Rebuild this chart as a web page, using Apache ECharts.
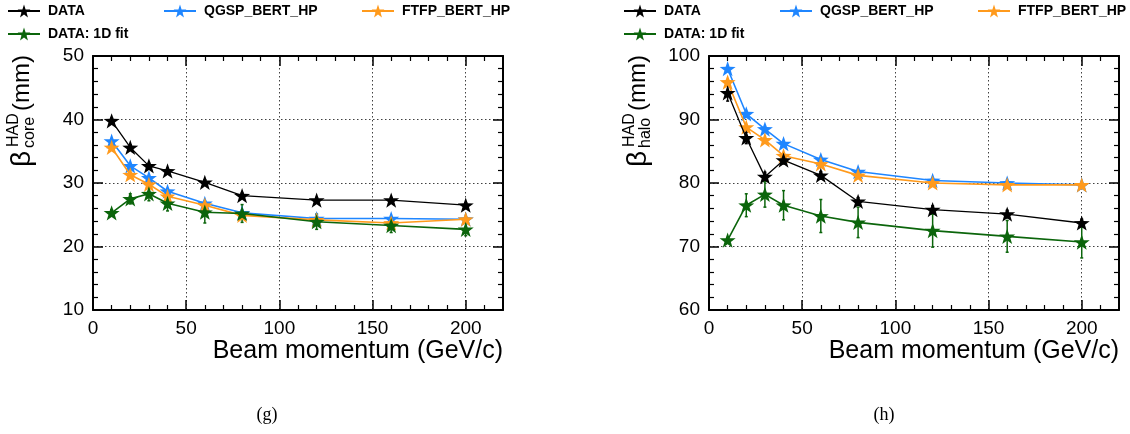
<!DOCTYPE html>
<html>
<head>
<meta charset="utf-8">
<script src="https://cdn.jsdelivr.net/npm/echarts@6/dist/echarts.min.js"></script>
<style>
html,body{margin:0;padding:0;background:#fff;}
#chart{width:1130px;height:434px;}
</style>
</head>
<body>
<div id="chart"></div>
<script>
// ---- data ----
const momenta = [10, 20, 30, 40, 60, 80, 120, 160, 200];
const xTicks = [0, 50, 100, 150, 200];

const coreData = [39.8, 35.6, 32.7, 31.9, 30.1, 28.0, 27.3, 27.3, 26.5];
const coreDataErr = [0.4, 0.4, 0.4, 0.4, 0.4, 0.4, 0.4, 0.4, 0.4];
const coreQGSP = [36.6, 32.7, 30.8, 28.7, 26.8, 25.3, 24.4, 24.4, 24.3];
const coreFTFP = [35.6, 31.3, 29.8, 27.9, 26.5, 24.9, 24.2, 23.7, 24.3];
const coreFit = [25.3, 27.5, 28.3, 26.8, 25.4, 25.2, 23.9, 23.3, 22.7];
const coreFitErr = [0.5, 0.8, 1.1, 1.2, 1.7, 1.4, 1.2, 1.1, 1.0];

const haloData = [94.2, 87.1, 81.0, 83.6, 81.2, 77.1, 75.8, 75.1, 73.7];
const haloDataErr = [1.3, 0.9, 0.7, 0.6, 0.6, 0.6, 0.6, 0.6, 0.6];
const haloQGSP = [98.0, 90.9, 88.5, 86.2, 83.7, 81.8, 80.4, 80.0, 79.7];
const haloFTFP = [95.9, 88.8, 86.8, 84.3, 83.0, 81.2, 80.0, 79.7, 79.7];
const haloFit = [71.0, 76.5, 78.2, 76.5, 74.8, 73.8, 72.5, 71.6, 70.7];
const haloFitErr = [0.4, 1.8, 2.0, 2.3, 2.6, 2.4, 2.6, 2.5, 2.5];

const seriesNames = ['DATA', 'QGSP_BERT_HP', 'FTFP_BERT_HP', 'DATA: 1D fit'];
const seriesColors = ['#000000', '#1f86ff', '#ff9a1c', '#0b650b'];
const captions = ['(g)', '(h)'];
const xTitle = 'Beam momentum (GeV/c)';

// ---- helpers ----
const FONT = '"Liberation Sans", Arial, Helvetica, sans-serif';
const STAR = 'path://M0,-10 L2.35,-3.24 L9.51,-3.09 L3.8,1.24 L5.88,8.09 L0,4 L-5.88,8.09 L-3.8,1.24 L-9.51,-3.09 L-2.35,-3.24 Z';
const pair = (xs, ys) => xs.map((x, i) => [x, ys[i]]);
const triple = (xs, ys, es) => xs.map((x, i) => [x, ys[i], es[i]]);

const panels = [
  { left: 93, yMin: 10, yMax: 50, vals: [coreData, coreQGSP, coreFTFP, coreFit], errs: [[0, coreDataErr], [3, coreFitErr]], sub: 'core' },
  { left: 709, yMin: 60, yMax: 100, vals: [haloData, haloQGSP, haloFTFP, haloFit], errs: [[0, haloDataErr], [3, haloFitErr]], sub: 'halo' }
];
const gridTop = 56, gridH = 254, gridW = 410;

const grid = [], xAxis = [], yAxis = [], series = [], legend = [], graphic = [];

panels.forEach((p, pi) => {
  grid.push({ left: p.left, top: gridTop, width: gridW, height: gridH });
  const common = {
    gridIndex: pi,
    axisLine: { show: true, onZero: false, lineStyle: { color: '#000', width: 2 } },
    axisTick: { show: true, inside: true, length: 10, lineStyle: { color: '#000', width: 1.5 } },
    minorTick: { show: true, splitNumber: 5, length: 5, lineStyle: { color: '#000', width: 1.2 } },
  };
  xAxis.push(Object.assign({}, common, {
    type: 'value', position: 'bottom', min: 0, max: 220, interval: 50,
    axisLabel: { show: true, color: '#000', fontFamily: FONT, fontSize: 19, margin: 9,
      formatter: v => (xTicks.indexOf(v) >= 0 ? String(v) : '') },
    splitLine: { show: true, lineStyle: { color: '#000', type: [1.5, 2.5], width: 1, opacity: 0.75 } },
    name: xTitle, nameLocation: 'end', nameGap: 0,
    nameTextStyle: { color: '#000', fontFamily: FONT, fontSize: 25, align: 'right', verticalAlign: 'top', padding: [29, 0, 0, 0] }
  }));
  xAxis.push(Object.assign({}, common, {
    type: 'value', position: 'top', min: 0, max: 220, interval: 50,
    axisLabel: { show: false }, splitLine: { show: false }
  }));
  yAxis.push(Object.assign({}, common, {
    type: 'value', position: 'left', min: p.yMin, max: p.yMax, interval: 10,
    axisLabel: { show: true, color: '#000', fontFamily: FONT, fontSize: 19, margin: 9 },
    splitLine: { show: true, lineStyle: { color: '#000', type: [1.5, 2.5], width: 1, opacity: 0.75 } }
  }));
  yAxis.push(Object.assign({}, common, {
    type: 'value', position: 'right', min: p.yMin, max: p.yMax, interval: 10,
    axisLabel: { show: false }, splitLine: { show: false }
  }));

  const xi = pi * 2, yi = pi * 2;
  p.errs.forEach(([si, errArr]) => {
    const col = seriesColors[si];
    series.push({
      type: 'custom', name: seriesNames[si] + ' err', xAxisIndex: xi, yAxisIndex: yi,
      data: triple(momenta, p.vals[si], errArr), encode: { x: 0, y: 1 }, z: 1, silent: true,
      renderItem: (params, api) => {
        const x = api.value(0), y = api.value(1), e = api.value(2);
        const t = api.coord([x, y + e]), b = api.coord([x, y - e]);
        const st = { stroke: col, lineWidth: 1.5 };
        return { type: 'group', children: [
          { type: 'line', shape: { x1: t[0], y1: t[1], x2: b[0], y2: b[1] }, style: st },
          { type: 'line', shape: { x1: t[0] - 1.5, y1: t[1], x2: t[0] + 1.5, y2: t[1] }, style: st },
          { type: 'line', shape: { x1: b[0] - 1.5, y1: b[1], x2: b[0] + 1.5, y2: b[1] }, style: st }
        ] };
      }
    });
  });
  p.vals.forEach((vals, si) => {
    series.push({
      type: 'line', name: seriesNames[si], xAxisIndex: xi, yAxisIndex: yi,
      data: pair(momenta, vals), z: 2 + (si === 0 ? 3 : si),
      symbol: STAR, symbolSize: 16, symbolKeepAspect: true, showSymbol: true,
      itemStyle: { color: seriesColors[si], borderWidth: 0 },
      lineStyle: { color: seriesColors[si], width: si === 0 ? 1.3 : 1.6 },
      emphasis: { disabled: true }
    });
  });

  const off = p.left - 93;
  const legPos = [[7, 4], [163, 4], [361, 4], [7, 27]];
  seriesNames.forEach((nm, si) => {
    legend.push({
      data: [nm], left: legPos[si][0] + off, top: legPos[si][1], padding: 0,
      itemWidth: 32, itemHeight: 16, selectedMode: false,
      textStyle: { color: '#000', fontFamily: FONT, fontSize: 14, fontWeight: 'bold', padding: [0, 0, 0, 3] }
    });
  });

  const gx = off;
  const rot = Math.PI / 2;
  const ttl = (txt, x, y, size) => ({
    type: 'text', x: x, y: y, rotation: rot, silent: true,
    style: { text: txt, fill: '#000', font: size + 'px ' + FONT, align: 'left', verticalAlign: 'middle',
      textAlign: 'left', textVerticalAlign: 'middle' }
  });
  graphic.push(ttl('β', 22 + gx, 167, 28));
  graphic.push(ttl('HAD', 14 + gx, 147, 16));
  graphic.push(ttl(p.sub, 29.5 + gx, 148, 16));
  graphic.push(ttl('(mm)', 22 + gx, 111, 24));

  graphic.push({
    type: 'text', x: [267, 884][pi], y: 415, silent: true,
    style: { text: captions[pi], fill: '#000', font: '18px "Liberation Serif", "Times New Roman", serif',
      align: 'center', verticalAlign: 'middle', textAlign: 'center', textVerticalAlign: 'middle' }
  });
});

const chart = echarts.init(document.getElementById('chart'), null, { renderer: 'canvas' });
chart.setOption({
  animation: false,
  backgroundColor: '#fff',
  grid, xAxis, yAxis, series, legend, graphic
});
</script>
</body>
</html>
